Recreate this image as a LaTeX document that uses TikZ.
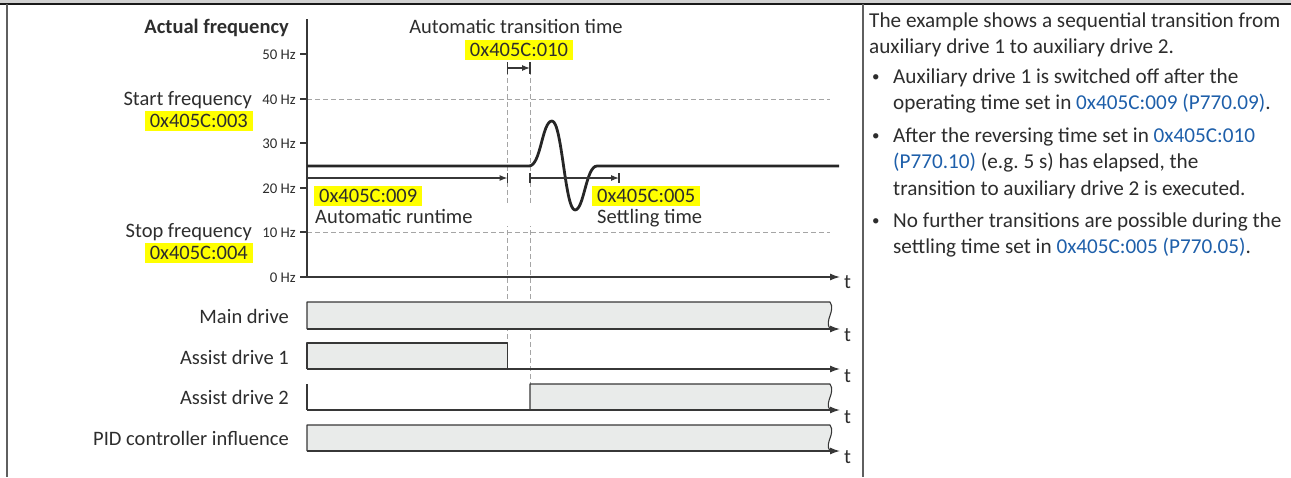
\documentclass[tikz,border=0pt]{standalone}
\usepackage{fontspec}
\setmainfont{Carlito}
\usetikzlibrary{arrows.meta}
\frenchspacing
\definecolor{txt}{RGB}{45,45,45}
\definecolor{lnk}{RGB}{30,95,170}
\definecolor{boxfill}{RGB}{233,235,234}
\definecolor{dashc}{RGB}{165,165,165}
\definecolor{hl}{RGB}{255,255,0}
\definecolor{axisc}{RGB}{55,55,55}
\begin{document}
\begin{tikzpicture}[x=1pt,y=-1pt,
  lbl/.style={font=\fontsize{20.5}{24}\selectfont, text=txt, inner sep=0pt},
  ticklbl/.style={font=\fontsize{14.8}{16}\selectfont, text=txt, inner sep=0pt, anchor=base east},
  hlbox/.style={lbl, fill=hl, inner xsep=5pt, inner ysep=0pt, text height=16pt, text depth=4pt},
  axisline/.style={draw=axisc, line width=1.3pt},
  tarrow/.style={axisline, -{Latex[length=10pt,width=7pt]}},
  dimarrow/.style={draw=axisc, line width=1.1pt, -{Latex[length=8pt,width=6pt]}},
  dimbar/.style={draw=axisc, line width=1.1pt},
  guide/.style={draw=dashc, line width=0.9pt, dash pattern=on 5pt off 3pt},
  sigbox/.style={fill=boxfill, draw=axisc, line width=1.1pt, line join=round},
  curve/.style={draw=black!85, line width=2.8pt, line join=round},
  rtext/.style={font=\fontsize{21.2}{24}\selectfont, text=txt, inner sep=0pt, anchor=base west},
  bul/.style={font=\fontsize{15}{16}\selectfont, text=txt, inner sep=0pt, anchor=base west},
]
\useasboundingbox (0,0) rectangle (1291,477);
% frame
\fill[black!18] (0,0) rectangle (1291,3.5);
\draw[black!90, line width=1.6pt] (0,4) -- (1291,4);
\draw[axisc!80, line width=1.8pt] (7,4) -- (7,477);
\draw[axisc!80, line width=1.5pt] (863,4) -- (863,477);

% coordinates
\coordinate (O) at (307,277);
\coordinate (Ytop) at (307,19);
\coordinate (Tend) at (840,277);
\coordinate (c1) at (507.5,62);
\coordinate (c1b) at (507.5,343);
\coordinate (c2) at (530,62);
\coordinate (c2b) at (530,384);

% guides
\draw[guide] (307,99) -- (830,99);
\draw[guide] (307,232) -- (830,232);
\draw[guide] (c1) -- (c1b);
\draw[guide] (c2) -- (c2b);
\fill[white] (477,205) rectangle (561,226);

% axes
\draw[axisline] (Ytop) -- (O);
\draw[tarrow] (O) -- (Tend);
\foreach \yy/\lab in {54/50,99/40,143/30,188/20,232/10,277/0}{
  \draw[axisline] (300,\yy) -- (307,\yy);
  \node[ticklbl] (tk\lab) at (296,\yy+5) {\lab\ Hz};
}

% labels left
\node[lbl, anchor=base east, font=\fontsize{20.5}{24}\selectfont\bfseries] (af) at (289,33) {Actual frequency};
\node[lbl, anchor=base east] (sf) at (252,105) {Start frequency};
\node[hlbox, anchor=base east] (sfp) at (253,127) {0x405C:003};
\node[lbl, anchor=base east] (stf) at (252,237.5) {Stop frequency};
\node[hlbox, anchor=base east] (stfp) at (253,259) {0x405C:004};

% transition time
\node[lbl, anchor=base] (att) at (516,33) {Automatic transition time};
\node[hlbox, anchor=base] (attp) at (519,56) {0x405C:010};
\coordinate (tt1) at (507.5,68);
\coordinate (tt2) at (530,68);
\draw[dimarrow] (tt1) -- (tt2);
\draw[dimbar] (507.5,62) -- (507.5,74);
\draw[dimbar] (530,62) -- (530,74);

% frequency curve
\draw[curve] (307,166) -- (529,166)
  .. controls (541,166) and (542,121) .. (552,121)
  .. controls (562,121) and (565,210) .. (575,210)
  .. controls (584,210) and (586,166) .. (597,166) -- (839,166);

% runtime dims
\coordinate (r1) at (307,178);
\coordinate (r2) at (507.5,178);
\coordinate (s1) at (530,178);
\coordinate (s2) at (619,178);
\draw[dimarrow] (r1) -- (r2);
\draw[dimbar] (507.5,173) -- (507.5,183);
\draw[dimarrow] (s1) -- (s2);
\draw[dimbar] (530,173) -- (530,183);
\draw[dimbar] (619,173) -- (619,183);
\node[hlbox, anchor=base west] (rtp) at (314,202) {0x405C:009};
\node[lbl, anchor=base west] (rt) at (315,223) {Automatic runtime};
\node[hlbox, anchor=base west] (stp) at (592,202) {0x405C:005};
\node[lbl, anchor=base west] (st) at (597,223.5) {Settling time};
\node[lbl, anchor=base west] (t0) at (844,288) {t};

% main drive
\node[lbl, anchor=base east] (md) at (289,323) {Main drive};
\path[sigbox] (307,329) -- (307,302) -- (830,302) .. controls (836,311) and (824,320) .. (830,329);
\draw[tarrow] (307,329) -- (840,329);
\node[lbl, anchor=base west] (t1) at (844,341) {t};

% assist drive 1
\node[lbl, anchor=base east] (ad1) at (289,364) {Assist drive 1};
\path[sigbox] (307,369) -- (307,343) -- (507.5,343) -- (507.5,369);
\draw[tarrow] (307,369) -- (840,369);
\node[lbl, anchor=base west] (t2) at (844,382) {t};

% assist drive 2
\node[lbl, anchor=base east] (ad2) at (289,404) {Assist drive 2};
\draw[axisline, line width=1.1pt] (307,384) -- (307,410);
\path[sigbox] (530,410) -- (530,384) -- (830,384) .. controls (836,393) and (824,402) .. (830,410);
\draw[tarrow] (307,410) -- (840,410);
\node[lbl, anchor=base west] (t3) at (844,423) {t};

% PID
\node[lbl, anchor=base east] (pid) at (289,445) {PID controller influence};
\path[sigbox] (307,451) -- (307,425) -- (830,425) .. controls (836,434) and (824,443) .. (830,451);
\draw[tarrow] (307,451) -- (840,451);
\node[lbl, anchor=base west] (t4) at (844,463) {t};

% right text
\node[rtext] (p1) at (869,27) {The example shows a sequential transition from};
\node[rtext] (p2) at (869,53) {auxiliary drive 1 to auxiliary drive 2.};
\node[bul] (b1) at (872,81) {\textbullet};
\node[bul] (b2) at (872,140) {\textbullet};
\node[bul] (b3) at (872,225) {\textbullet};
\node[rtext] (l1) at (893,83) {Auxiliary drive 1 is switched off after the};
\node[rtext] (l2) at (893,109) {operating time set in \textcolor{lnk}{0x405C:009 (P770.09)}.};
\node[rtext] (l3) at (893,142) {After the reversing time set in \textcolor{lnk}{0x405C:010}};
\node[rtext] (l4) at (893,168) {\textcolor{lnk}{(P770.10)} (e.g. 5 s) has elapsed, the};
\node[rtext] (l5) at (893,195) {transition to auxiliary drive 2 is executed.};
\node[rtext] (l6) at (893,227) {No further transitions are possible during the};
\node[rtext] (l7) at (893,253) {settling time set in \textcolor{lnk}{0x405C:005 (P770.05)}.};
\end{tikzpicture}
\end{document}
